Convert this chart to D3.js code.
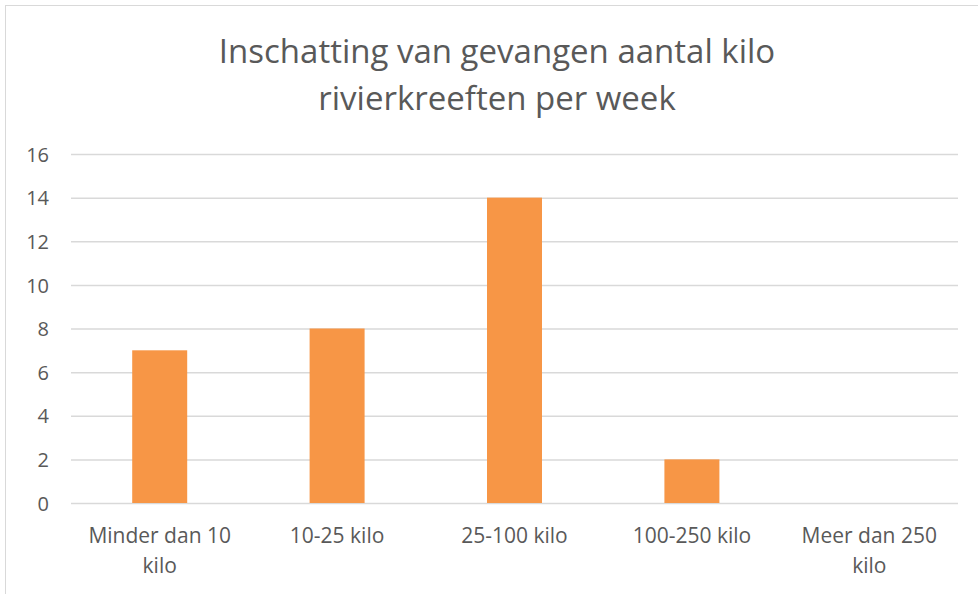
<!DOCTYPE html>
<html>
<head>
<meta charset="utf-8">
<script src="https://cdn.jsdelivr.net/npm/d3@7"></script>
<style>
  body { margin: 0; background: #fff; }
  .chart text { font-family: "Open Sans", sans-serif; fill: #595959; }
</style>
</head>
<body>
<div class="chart"></div>
<script>
const titleLines = ['Inschatting van gevangen aantal kilo', 'rivierkreeften per week'];
const categories = [
  ['Minder dan 10', 'kilo'],
  ['10-25 kilo'],
  ['25-100 kilo'],
  ['100-250 kilo'],
  ['Meer dan 250', 'kilo']
];
const values = [7, 8, 14, 2, 0];
const yTicks = [0, 2, 4, 6, 8, 10, 12, 14, 16];

let canvas = {
  svg: {},
  xScale: {},
  yScale: {},
  config: {
    svgW: 978,
    svgH: 594,
    left: 71,
    right: 958,
    top: 154,
    bottom: 503
  },
  init: function () {
    this.svg = d3.select('.chart').append('svg')
      .attr('width', this.config.svgW)
      .attr('height', this.config.svgH);
    // frame
    this.svg.append('rect')
      .attr('x', 5.5).attr('y', 5.5)
      .attr('width', 1000).attr('height', 1000)
      .attr('fill', 'none')
      .attr('stroke', '#d9d9d9');
    this.bind();
    this.render();
  },
  bind: function () {
    this.xScale = d3.scaleBand()
      .domain(d3.range(categories.length))
      .range([this.config.left, this.config.right])
      .paddingInner(0.69)
      .paddingOuter(0.345);
    this.yScale = d3.scaleLinear()
      .domain([0, 16])
      .range([this.config.bottom, this.config.top]);
  },
  render: function () {
    let cfg = this.config;
    // title
    this.svg.append('text')
      .attr('text-anchor', 'middle')
      .style('font-size', '33px')
      .selectAll('tspan')
      .data(titleLines)
      .enter().append('tspan')
      .attr('x', 497)
      .attr('y', (d, i) => 63 + i * 47)
      .text(d => d);

    // y axis with gridlines
    let yAxis = d3.axisLeft(this.yScale)
      .tickValues(yTicks)
      .tickSize(-(cfg.right - cfg.left))
      .tickPadding(20);
    let gy = this.svg.append('g')
      .attr('class', 'y axis')
      .attr('transform', `translate(${cfg.left}, 0)`)
      .call(yAxis);
    gy.select('.domain').remove();
    gy.selectAll('.tick line')
      .attr('stroke', '#d9d9d9')
      .attr('stroke-width', 1.5);
    gy.selectAll('.tick text')
      .attr('font-family', null)
      .style('font-size', '20px')
      .attr('x', 49 - cfg.left)
      .attr('dy', '0.36em');

    // bars
    this.svg.append('g')
      .selectAll('rect')
      .data(values)
      .enter().append('rect')
      .attr('x', (d, i) => this.xScale(i))
      .attr('y', d => this.yScale(d))
      .attr('width', this.xScale.bandwidth())
      .attr('height', d => cfg.bottom - this.yScale(d))
      .attr('fill', '#F79646');

    // x labels
    let labels = this.svg.append('g')
      .selectAll('text')
      .data(categories)
      .enter().append('text')
      .attr('text-anchor', 'middle')
      .style('font-size', '21px');
    labels.selectAll('tspan')
      .data((d, i) => d.map(t => ({ t: t, i: i })))
      .enter().append('tspan')
      .attr('x', d => this.xScale(d.i) + this.xScale.bandwidth() / 2)
      .attr('y', (d, j) => 543 + j * 30)
      .text(d => d.t);
  }
};

canvas.init();
</script>
</body>
</html>
